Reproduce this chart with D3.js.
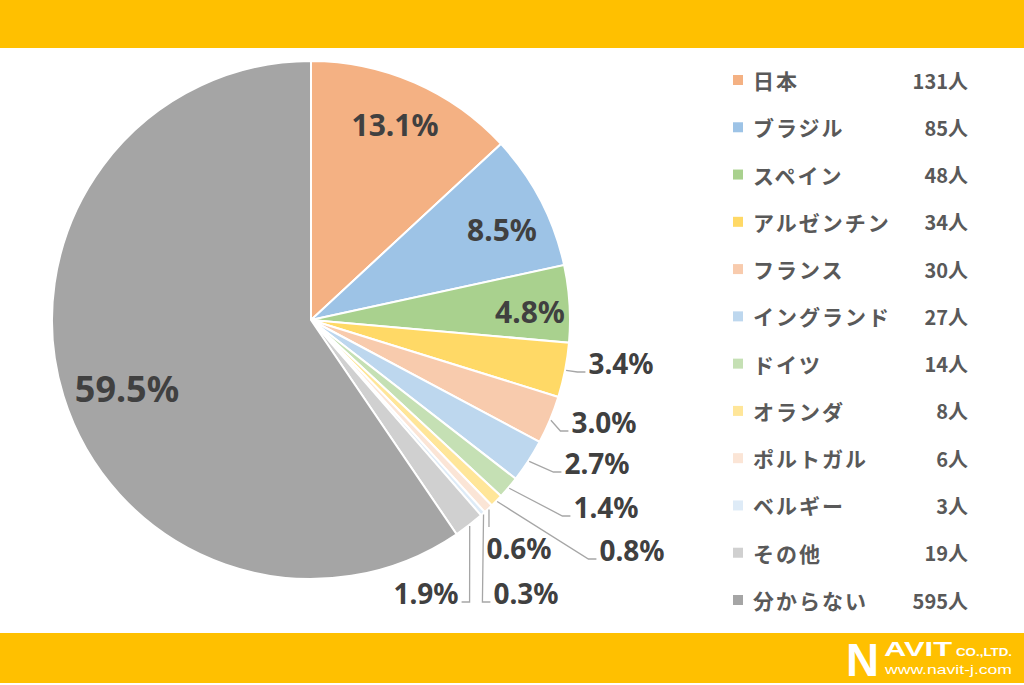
<!DOCTYPE html>
<meta charset="utf-8">
<style>
  body { margin: 0; background: #fff; }
  svg { display: block; }
  .legend text { font-family: "Noto Sans CJK JP", sans-serif; font-weight: bold; fill: #595959; }
  .pct { font-family: "Noto Sans", "DejaVu Sans", sans-serif; font-weight: bold; fill: #404040; }
  .leader { fill: none; stroke: #a6a6a6; stroke-width: 1.3px; }
</style>
<body>
<script src="https://cdn.jsdelivr.net/npm/d3@7/dist/d3.min.js"></script>
<script>

  // data
  var countries = ["日本", "ブラジル", "スペイン", "アルゼンチン", "フランス", "イングランド",
    "ドイツ", "オランダ", "ポルトガル", "ベルギー", "その他", "分からない"];
  var people = [131, 85, 48, 34, 30, 27, 14, 8, 6, 3, 19, 595];
  var pctLabels = ["13.1%", "8.5%", "4.8%", "3.4%", "3.0%", "2.7%", "1.4%", "0.8%", "0.6%", "0.3%", "1.9%", "59.5%"];
  var colors = ["#f4b183", "#9dc3e6", "#a9d18e", "#ffd966", "#f8cbad", "#bdd7ee",
    "#c5e0b4", "#ffe699", "#fbe5d6", "#deebf7", "#d0d0d0", "#a5a5a5"];

  // label placement (offset from pie centre) and where the leader line goes
  var labelOffset = [[84, -196], [191, -91], [219, -9], [310, 43], [293, 102], [286, 143],
    [295, 187], [321, 230], [208, 228], [215, 273], [115, 273], [-184, 68]];
  var labelSide = ["in", "in", "in", "right", "right", "right", "right", "right", "below", "right", "left", "in"];

  var width = 1024, height = 685;
  var cx = 311, cy = 320, r = 259;

  var svg = d3.select("body").append("svg")
    .attr("width", width)
    .attr("height", height);

  // yellow bands
  svg.append("rect").attr("x", 0).attr("y", 0).attr("width", width).attr("height", 48).attr("fill", "#ffc000");
  svg.append("rect").attr("x", 0).attr("y", 633).attr("width", width).attr("height", 50).attr("fill", "#ffc000");

  var data = countries.map((c, i) => ({ name: c, value: people[i], label: pctLabels[i], color: colors[i],
    off: labelOffset[i], side: labelSide[i] }));

  var pie = d3.pie().sort(null).value(d => d.value);
  var arc = d3.arc().innerRadius(0).outerRadius(r);
  var arcs = pie(data);

  var g = svg.append("g").attr("transform", "translate(" + cx + "," + cy + ")");

  g.selectAll("path.slice")
    .data(arcs)
    .enter().append("path")
    .attr("class", "slice")
    .attr("d", arc)
    .attr("fill", d => d.data.color)
    .attr("stroke", "#fff")
    .attr("stroke-width", 2);

  // text widths to place leader lines
  var labels = g.selectAll("text.pct")
    .data(arcs)
    .enter().append("text")
    .attr("class", "pct")
    .attr("x", d => d.data.off[0])
    .attr("y", d => d.data.off[1])
    .attr("text-anchor", "middle")
    .attr("dominant-baseline", "central")
    .attr("font-size", d => d.data.value > 500 ? 36 : (d.data.side == "in" ? 30 : 28))
    .text(d => d.data.label);

  labels.each(function (d) {
    if (d.data.side == "in") return;
    var w = this.getComputedTextLength();
    var a = (d.startAngle + d.endAngle) / 2;
    var px = (r + 1) * Math.sin(a), py = -(r + 1) * Math.cos(a);
    var lx = d.data.off[0], ly = d.data.off[1];
    var pts;
    if (d.data.side == "right") {
      var fx = lx - w / 2 - 3, fy = ly + 9;
      pts = [[px, py], [fx - 8, fy], [fx, fy]];
    } else if (d.data.side == "left") {
      var fx = lx + w / 2 + 3, fy = ly + 9;
      pts = [[px, py], [fx + 8, fy], [fx, fy]];
    } else {
      pts = [[px, py], [px, ly - 21]];
    }
    g.insert("path", "text.pct")
      .attr("class", "leader")
      .attr("d", d3.line()(pts));
  });

  // legend
  var legend = svg.append("g").attr("class", "legend");
  var rowY = d3.scalePoint().domain(countries).range([80, 600]);

  var rows = legend.selectAll("g")
    .data(data)
    .enter().append("g")
    .attr("transform", d => "translate(0," + rowY(d.name) + ")");

  rows.append("rect")
    .attr("x", 733).attr("y", -5)
    .attr("width", 10).attr("height", 10)
    .attr("fill", d => d.color);

  rows.append("text")
    .attr("x", 753)
    .attr("dominant-baseline", "central")
    .attr("font-size", 21)
    .attr("letter-spacing", 2)
    .text(d => d.name);

  rows.append("text")
    .attr("x", 968)
    .attr("text-anchor", "end")
    .attr("dominant-baseline", "central")
    .attr("font-size", 20)
    .text(d => d.value + "人");

  // logo
  var logo = svg.append("g").attr("fill", "#fff").attr("font-family", "Liberation Sans, Arial, sans-serif").attr("font-weight", "bold");
  logo.append("text").attr("x", 846).attr("y", 676).attr("font-size", 46).attr("textLength", 33).attr("lengthAdjust", "spacingAndGlyphs").text("N");
  logo.append("text").attr("x", 884).attr("y", 656).attr("font-size", 20).attr("textLength", 68).attr("lengthAdjust", "spacingAndGlyphs").text("AVIT");
  logo.append("text").attr("x", 956).attr("y", 656).attr("font-size", 11).attr("textLength", 56).attr("lengthAdjust", "spacingAndGlyphs").text("CO.,LTD.");
  logo.append("text").attr("x", 885).attr("y", 674).attr("font-size", 13).attr("font-weight", "normal").attr("textLength", 127).attr("lengthAdjust", "spacingAndGlyphs").text("www.navit-j.com");

</script>
</body>
